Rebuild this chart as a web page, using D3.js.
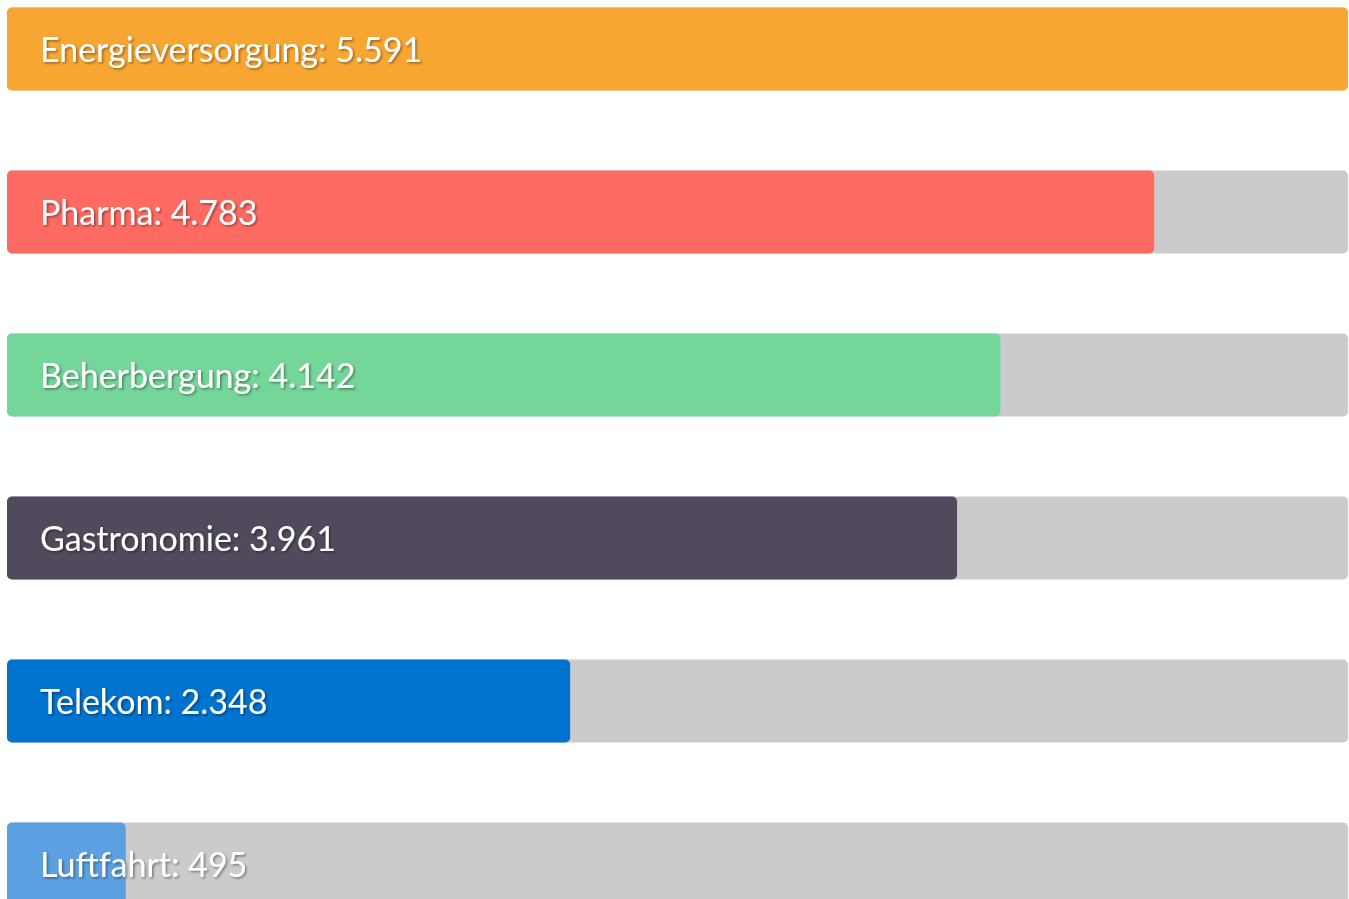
<!DOCTYPE html>
<html>
<head>
    <meta charset="utf-8">
    <style>
        body {
            margin: 0;
            background: #fff;
        }
        .label {
            font-family: 'Lato';
            font-size: 34px;
            fill: #fff;
        }
    </style>
</head>
<body>
    <svg width="1349" height="899"></svg>

<script src="https://d3js.org/d3.v7.min.js"></script>
<script>

    // values
    let categories = ["Energieversorgung", "Pharma", "Beherbergung", "Gastronomie", "Telekom", "Luftfahrt"]
    let values = [5591, 4783, 4142, 3961, 2348, 495]
    let colors = ["#f8a632", "#ff6b63", "#74d699", "#514a5c", "#0073cf", "#5ba1e2"]

    let width = 1349
    let height = 899

    let rows = categories.map((c, i) => ({ name: c, value: values[i], color: colors[i] }))

    let svg = d3.select("svg")

    // soft dark shadow behind the white labels
    svg.append("defs")
        .append("filter")
        .attr("id", "shadow")
        .attr("x", "-5%").attr("y", "-20%")
        .attr("width", "110%").attr("height", "140%")
        .append("feDropShadow")
        .attr("dx", 1.5)
        .attr("dy", 1.5)
        .attr("stdDeviation", 1)
        .attr("flood-color", "#000")
        .attr("flood-opacity", 0.4)

    let x = d3.scaleLinear()
        .domain([0, d3.max(values)])
        .range([7, 1348])

    let y = d3.scaleBand()
        .domain(categories)
        .range([7.5, 905.5])
        .paddingInner(0.4908)
        .paddingOuter(0)

    let fmt = d3.formatLocale({ decimal: ",", thousands: ".", grouping: [3], currency: ["", "€"] }).format(",")

    let g = svg.selectAll(".row")
        .data(rows)
        .join("g")
        .attr("class", "row")
        .attr("transform", d => "translate(0," + y(d.name) + ")")

    // gray track
    g.append("rect")
        .attr("x", x(0))
        .attr("width", x.range()[1] - x(0))
        .attr("height", y.bandwidth())
        .attr("rx", 5)
        .style("fill", "#cbcbcb")

    // value bar
    g.append("rect")
        .attr("x", x(0))
        .attr("width", d => x(d.value) - x(0))
        .attr("height", y.bandwidth())
        .attr("rx", 5)
        .style("fill", d => d.color)

    g.append("text")
        .attr("class", "label")
        .attr("x", 40)
        .attr("y", 54)
        .attr("filter", "url(#shadow)")
        .text(d => d.name + ": " + fmt(d.value))

</script>
</body>
</html>
